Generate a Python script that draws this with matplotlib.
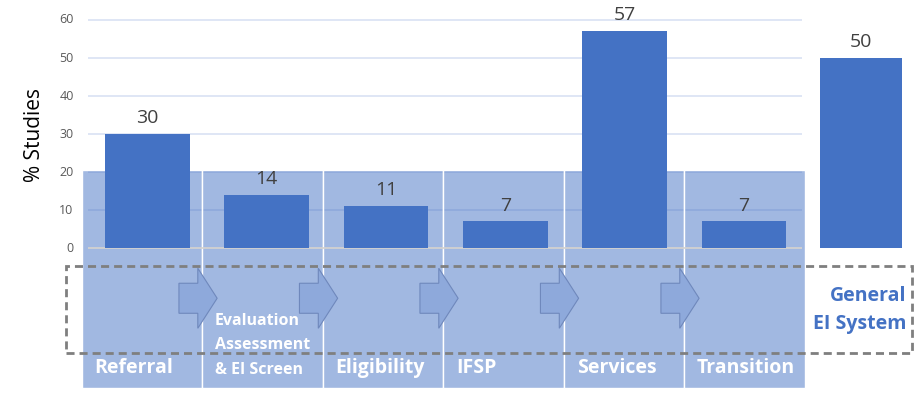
import matplotlib
matplotlib.use("Agg")
import matplotlib.pyplot as plt
from matplotlib.patches import Rectangle, Polygon

plt.rcParams['font.family'] = ['Open Sans', 'DejaVu Sans']

# data
stages = ['Referral', 'Evaluation\nAssessment\n& EI Screen', 'Eligibility', 'IFSP', 'Services', 'Transition']
pct = [30, 14, 11, 7, 57, 7]
general_label = 'General\nEI System'
general_pct = 50
yticks = [0, 10, 20, 30, 40, 50, 60]

bar_color = '#4472C4'
box_color = (0x44 / 255, 0x72 / 255, 0xC4 / 255, 0.5)

fig = plt.figure(figsize=(9.24, 3.99), dpi=100)
ax = fig.add_axes([0, 0, 1, 1])
ax.set_xlim(-1.235, 6.51)
ax.set_ylim(-39.7, 65.26)
ax.axis('off')

n = len(stages)
xs = list(range(n))

# gridlines
for t in yticks[1:]:
    ax.hlines(t, -0.5, 5.49, color='#D9E2F3', lw=1.2, zorder=1)
ax.hlines(0, -0.5, 5.49, color='#D6D3CE', lw=1.2, zorder=2.6)
for t in yticks:
    ax.text(-0.618, t, str(t), ha='right', va='center', fontsize=9, color='#595959')
ax.text(-0.943, 29.7, '% Studies', rotation=90, ha='center', va='center',
        fontsize=15, color='#000000')

# process boxes behind the bars
col_w = 1.01
for i in xs:
    left = i * col_w - 0.55
    ax.add_patch(Rectangle((left, -36.8), col_w, 36.8 + 20.5, facecolor=box_color,
                           edgecolor='white', lw=1.0, zorder=2))

# arrows between stages
for i in xs[1:]:
    bx = i * col_w - 0.55
    yc = -13.2
    pts = [(bx - 0.195, yc + 3.95), (bx - 0.037, yc + 3.95), (bx - 0.037, yc + 7.9),
           (bx + 0.125, yc), (bx - 0.037, yc - 7.9), (bx - 0.037, yc - 3.95),
           (bx - 0.195, yc - 3.95)]
    ax.add_patch(Polygon(pts, closed=True, facecolor='#8EA9DB', edgecolor='#6F88BC',
                         lw=0.8, zorder=4))

# bars
bars = ax.bar(xs, pct, width=0.71, color=bar_color, zorder=3)
gbar = ax.bar([5.98], [general_pct], width=0.69, color=bar_color, zorder=3)
for rect, v in list(zip(bars, pct)) + [(gbar[0], general_pct)]:
    ax.annotate(str(v), (rect.get_x() + rect.get_width() / 2, v), xytext=(0, 5),
                textcoords='offset points', ha='center', va='bottom',
                fontsize=14, color='#404040', zorder=6)

# dashed frame
ax.add_patch(Rectangle((-0.685, -27.6), 6.41 + 0.685, 27.6 - 4.74, fill=False,
                       edgecolor='#7F7F7F', lw=2, linestyle=(0, (2.9, 1.8)), zorder=5))

# stage labels
for i, name in enumerate(stages):
    left = i * col_w - 0.55 + 0.108
    if '\n' in name:
        ax.text(left, -25.6, name, ha='left', va='center', fontsize=11.5,
                fontweight='bold', color='white', linespacing=1.7, zorder=6)
    else:
        ax.text(left, -31.6, name, ha='left', va='center', fontsize=14,
                fontweight='bold', color='white', zorder=6)

ax.text(6.36, -16.3, general_label, ha='right', va='center', fontsize=14,
        fontweight='bold', color=bar_color, linespacing=1.55, zorder=6)

fig.savefig('out.png', dpi=100)
